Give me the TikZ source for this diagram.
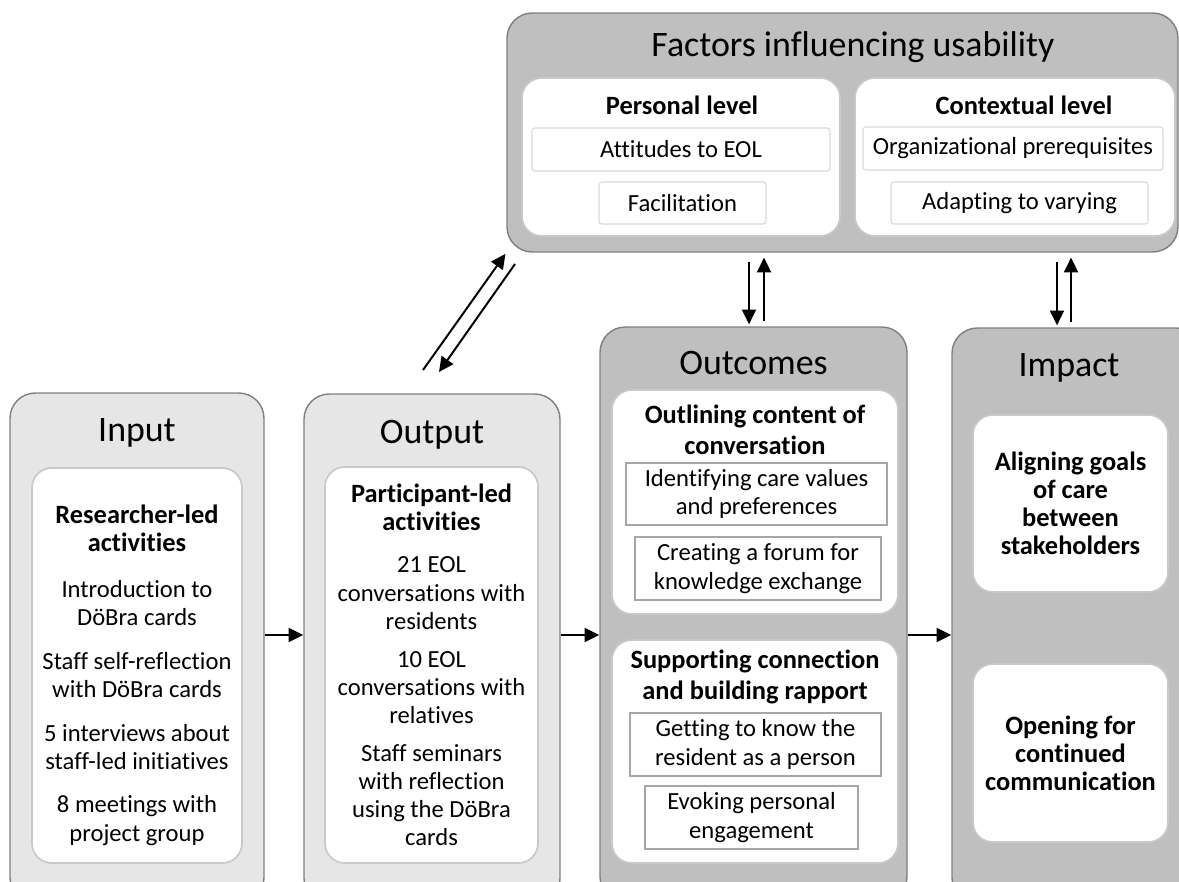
\documentclass[tikz,border=0pt]{standalone}
\usepackage{fontspec}
\setmainfont{Carlito}[Ligatures=NoCommon]
\usetikzlibrary{arrows.meta}
\definecolor{boxlight}{HTML}{E7E6E6}
\definecolor{boxdark}{HTML}{BFBFBF}
\definecolor{boxedge}{HTML}{7F7F7F}
\definecolor{inneredge}{HTML}{C9C9C9}
\definecolor{itemedge}{HTML}{A6A6A6}
\definecolor{factoredge}{HTML}{D9D9D9}
\newcommand\bodyfont{\fontsize{17.5}{20}\selectfont}
\newcommand\headfont{\fontsize{18.8}{20}\selectfont\bfseries}
\newcommand\titlefont{\fontsize{25.5}{29}\selectfont}
\tikzset{
  boxsize/.style 2 args={minimum width=#1*0.025cm,minimum height=#2*0.025cm},
  outerbox/.style={draw=boxedge,line width=1pt,rounded corners=18pt,inner sep=0pt},
  lightbox/.style={outerbox,fill=boxlight},
  darkbox/.style={outerbox,fill=boxdark},
  innerbox/.style={draw=inneredge,line width=1.2pt,fill=white,rounded corners=14pt,inner sep=0pt,align=center,font=\bodyfont},
  itembox/.style={draw=itemedge,line width=1.1pt,fill=white,inner sep=0pt,align=center,font=\fontsize{17.5}{20.5}\selectfont},
  factorbox/.style={draw=factoredge,line width=0.8pt,fill=white,rounded corners=2pt,inner sep=0pt,font=\bodyfont},
  title/.style={font=\titlefont,inner sep=0pt},
  body/.style={font=\bodyfont,align=center,inner sep=0pt},
  head/.style={font=\fontsize{18.8}{22}\selectfont\bfseries,align=center,inner sep=0pt},
  arr/.style={-{Triangle[length=10.5pt,width=10pt]},line width=1.4pt},
}
\begin{document}
\begin{tikzpicture}[x=0.025cm,y=-0.025cm]
\useasboundingbox (0,0) rectangle (1179,882);
\pgfmathsetmacro{\ay}{635}
% input
\node[lightbox,boxsize={254}{510}] (input) at (137,648) {};
\node[title] (inputtitle) at (137,433) {Input};
\node[innerbox,boxsize={210}{395}] (inputact) at (137,665.5) {};
\node[body] (inputtext) at (137,675) {{\headfont Researcher-led}\\{\headfont activities}\\[13pt]Introduction to\\DöBra cards\\[11pt]Staff self-reflection\\with DöBra cards\\[11pt]5 interviews about\\staff-led initiatives\\[11pt]8 meetings with\\project group};
% output
\node[lightbox,boxsize={256}{510}] (output) at (432,649) {};
\node[title] (outputtitle) at (432,435) {Output};
\node[innerbox,boxsize={213}{396}] (outputact) at (431.5,665) {};
\node[body] (outputtext) at (431.5,665) {{\headfont Participant-led}\\{\headfont activities}\\[10pt]21 EOL\\conversations with\\residents\\[7pt]10 EOL\\conversations with\\relatives\\[7pt]Staff seminars\\with reflection\\using the DöBra\\cards};
% outcomes
\node[darkbox,boxsize={307}{575}] (outcomes) at (753.5,614.5) {};
\node[title] (outcomestitle) at (753.5,363) {Outcomes};
\node[innerbox,boxsize={286}{224}] (outline) at (755,502) {};
\node[head] (outlinehead) at (755,429.5) {Outlining content of\\conversation};
\node[itembox,boxsize={261}{62}] (values) at (756.5,494) {Identifying care values\\and preferences};
\node[itembox,boxsize={246}{63}] (forum) at (758,568.5) {Creating a forum for\\knowledge exchange};
\node[innerbox,boxsize={286}{223}] (rapport) at (755,751.5) {};
\node[head] (rapporthead) at (755,676.5) {Supporting connection\\and building rapport};
\node[itembox,boxsize={251}{63}] (person) at (755.5,744.5) {Getting to know the\\resident as a person};
\node[itembox,boxsize={213}{63}] (engage) at (751.5,817.5) {Evoking personal\\engagement};
% impact
\node[darkbox,boxsize={250}{575}] (impact) at (1077,615.5) {};
\node[title] (impacttitle) at (1069,368) {Impact};
\node[innerbox,boxsize={195}{177},font=\headfont] (aligning) at (1070.5,503.5) {Aligning goals\\of care\\between\\stakeholders};
\node[innerbox,boxsize={195}{178},font=\headfont] (opening) at (1070.5,753) {Opening for\\continued\\communication};
% factors
\node[darkbox,boxsize={671}{239}] (factors) at (842.5,132.5) {};
\node[title] (factorstitle) at (853,47) {Factors influencing usability};
\node[innerbox,boxsize={318}{158}] (personal) at (681,157) {};
\node[head] (personalhead) at (682,105) {Personal level};
\node[factorbox,boxsize={298}{43}] (attitudes) at (681,149.5) {Attitudes to EOL};
\node[factorbox,boxsize={167}{42}] (facilitation) at (682.5,203) {Facilitation};
\node[innerbox,boxsize={320}{158}] (contextual) at (1015,157) {};
\node[head] (contextualhead) at (1024,105) {Contextual level};
\node[factorbox,boxsize={300}{43}] (organizational) at (1013,148.5) {Organizational prerequisites};
\node[factorbox,boxsize={257}{42}] (adapting) at (1019.5,203) {Adapting to varying};
% arrows
\foreach \a/\b in {input/output,output/outcomes,outcomes/impact}
  \draw[arr] (\a.east |- 0,\ay) -- (\b.west |- 0,\ay);
\foreach \xa/\xb/\tgt in {749/764/outcomes,1057/1071/impact}{
  \draw[arr,shorten <=6.4pt,shorten >=1.4pt] (factors.south -| \xa,0) -- (\tgt.north -| \xa,0);
  \draw[arr,shorten <=3.5pt,shorten >=3.5pt] (\tgt.north -| \xb,0) -- (factors.south -| \xb,0);
}
\coordinate (diagup) at (423,370);
\coordinate (diagdownstart) at (515,264);
\coordinate (diagdownend) at (439,372);
\draw[arr,shorten >=1pt] (diagup) -- (factors.south west);
\draw[arr] (diagdownstart) -- (diagdownend);
\end{tikzpicture}
\end{document}
